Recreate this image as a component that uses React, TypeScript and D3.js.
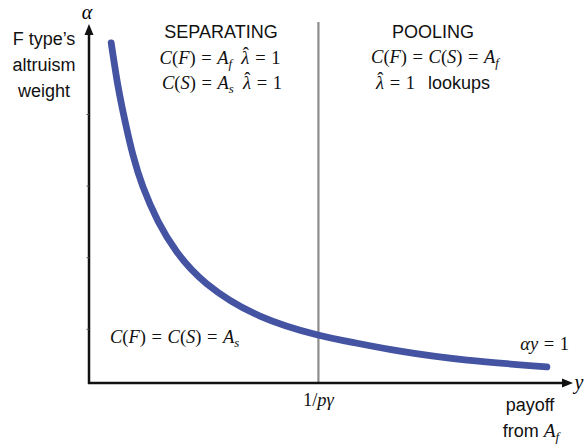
import * as d3 from "d3";

// curve alpha * y = 1 (y payoff, alpha weight)
const curveY = [0.46, 0.6, 0.75, 0.91, 1.12, 1.43, 1.82, 2.44, 3.54, 4.74, 5.4, 6.44, 7.83, 9.48];
const curveAlpha = [9.5, 8.3, 7.29, 6.37, 5.47, 4.52, 3.66, 2.77, 1.87, 1.34, 1.15, 0.89, 0.64, 0.45];
const threshold = 4.75; // 1/pγ
const alphaTicks = [1.5, 3.5, 5.5, 7.5];

const W = 584;
const H = 448;
const x = d3.scaleLinear().domain([0, 10]).range([89, 572]);
const y = d3.scaleLinear().domain([0, 10]).range([383, 25]);

const serif = "'Liberation Serif', 'DejaVu Serif', serif";
const sans = "'Liberation Sans', Arial, sans-serif";

// i = italic, r = roman, sub = italic subscript, op = spaced relation, hat = λ with a hat
type Seg = [string, "i" | "r" | "sub" | "op" | "hat"];

function MathText({ segs, px, py, anchor = "middle", size = 18.5 }: { segs: Seg[]; px: number; py: number; anchor?: string; size?: number }) {
  const out: JSX.Element[] = [];
  let shift = 0; // current baseline offset
  let pendingDx = 0;
  const gap = size * 0.3;
  segs.forEach(([t, k], i) => {
    const want = k === "sub" ? 4 : 0;
    let dy = want - shift;
    shift = want;
    const style = k === "r" || k === "op" ? "normal" : "italic";
    if (k === "op") {
      out.push(<tspan key={i} dy={dy || undefined} dx={gap + pendingDx} fontStyle={style}>{t}</tspan>);
      pendingDx = gap;
      return;
    }
    if (k === "hat") {
      out.push(<tspan key={i + "a"} dy={dy || undefined} dx={pendingDx || undefined} fontStyle="italic">λ</tspan>);
      out.push(<tspan key={i + "b"} dx={-size * 0.36} dy={-size * 0.2} fontStyle="normal">ˆ</tspan>);
      shift = -size * 0.2;
      pendingDx = size * 0.04;
      return;
    }
    out.push(
      <tspan key={i} dy={dy || undefined} dx={pendingDx || undefined} fontStyle={style} fontSize={k === "sub" ? size * 0.7 : undefined}>
        {t}
      </tspan>
    );
    pendingDx = 0;
  });
  return (
    <text x={px} y={py} textAnchor={anchor} fontFamily={serif} fontSize={size} fill="#111">
      {out}
    </text>
  );
}

export default function App() {
  const pts = curveY.map((v, i) => [x(v), y(curveAlpha[i])] as [number, number]);
  const line = d3.line().curve(d3.curveNatural)(pts) ?? "";
  const x0 = x(0);
  const y0 = y(0);
  const xEnd = x(10);
  const yEnd = y(10);

  return (
    <svg width={W} height={H} style={{ position: "fixed", left: 0, top: 0, background: "#fff" }}>
      {/* divider at 1/pγ */}
      <line x1={x(threshold)} x2={x(threshold)} y1={22} y2={y0} stroke="#8c8c8c" strokeWidth={2.2} />

      {/* axes */}
      <line x1={x0} x2={x0} y1={y0 + 1} y2={yEnd + 8} stroke="#111" strokeWidth={2.5} />
      <path d={`M${x0},${yEnd - 1} L${x0 - 4.5},${yEnd + 10} L${x0 + 4.5},${yEnd + 10} Z`} fill="#111" />
      <line x1={x0 - 1} x2={xEnd - 8} y1={y0} y2={y0} stroke="#111" strokeWidth={2.5} />
      <path d={`M${xEnd + 1},${y0} L${xEnd - 10},${y0 - 4.5} L${xEnd - 10},${y0 + 4.5} Z`} fill="#111" />
      {alphaTicks.map((t) => (
        <line key={t} x1={x0 - 2.5} x2={x0} y1={y(t)} y2={y(t)} stroke="#555" strokeWidth={1} />
      ))}

      {/* curve */}
      <path d={line} fill="none" stroke="#4454a2" strokeWidth={6.8} strokeLinecap="round" />

      {/* axis labels */}
      <text x={87} y={19} textAnchor="middle" fontFamily={serif} fontStyle="italic" fontSize={20}>α</text>
      <text x={579} y={389} textAnchor="middle" fontFamily={serif} fontStyle="italic" fontSize={20}>y</text>
      <g fontFamily={sans} fontSize={18} textAnchor="middle" fill="#111">
        <text x={44} y={45}>F type’s</text>
        <text x={44} y={71}>altruism</text>
        <text x={44} y={97}>weight</text>
        <text x={530} y={411}>payoff</text>
      </g>
      <text x={531} y={437} textAnchor="middle" fontFamily={sans} fontSize={18} fill="#111">
        from{" "}
        <tspan fontFamily={serif} fontStyle="italic" fontSize={19.5}>A</tspan>
        <tspan fontFamily={serif} fontStyle="italic" fontSize={13.5} dy={4}>f</tspan>
      </text>
      <MathText px={x(threshold)} py={406} segs={[["1/", "r"], ["pγ", "i"]]} />

      {/* region titles */}
      <g fontFamily={sans} fontSize={18} textAnchor="middle" fill="#111">
        <text x={221} y={38}>SEPARATING</text>
        <text x={433} y={38}>POOLING</text>
      </g>
      <MathText px={220} py={64} segs={[["C", "i"], ["(", "r"], ["F", "i"], [")", "r"], ["=", "op"], ["A", "i"], ["f", "sub"], ["\u2002", "r"], ["", "hat"], ["=", "op"], ["1", "r"]]} />
      <MathText px={222} py={89} segs={[["C", "i"], ["(", "r"], ["S", "i"], [")", "r"], ["=", "op"], ["A", "i"], ["s", "sub"], ["\u2002", "r"], ["", "hat"], ["=", "op"], ["1", "r"]]} />
      <MathText px={435} py={63} segs={[["C", "i"], ["(", "r"], ["F", "i"], [")", "r"], ["=", "op"], ["C", "i"], ["(", "r"], ["S", "i"], [")", "r"], ["=", "op"], ["A", "i"], ["f", "sub"]]} />
      <MathText px={376} py={89} anchor="start" segs={[["", "hat"], ["=", "op"], ["1", "r"]]} />
      <text x={428} y={89} fontFamily={sans} fontSize={18} fill="#111">lookups</text>

      {/* curve annotations */}
      <MathText px={110} py={343} anchor="start" segs={[["C", "i"], ["(", "r"], ["F", "i"], [")", "r"], ["=", "op"], ["C", "i"], ["(", "r"], ["S", "i"], [")", "r"], ["=", "op"], ["A", "i"], ["s", "sub"]]} />
      <MathText px={569} py={350} anchor="end" segs={[["αy", "i"], ["=", "op"], ["1", "r"]]} />
    </svg>
  );
}
